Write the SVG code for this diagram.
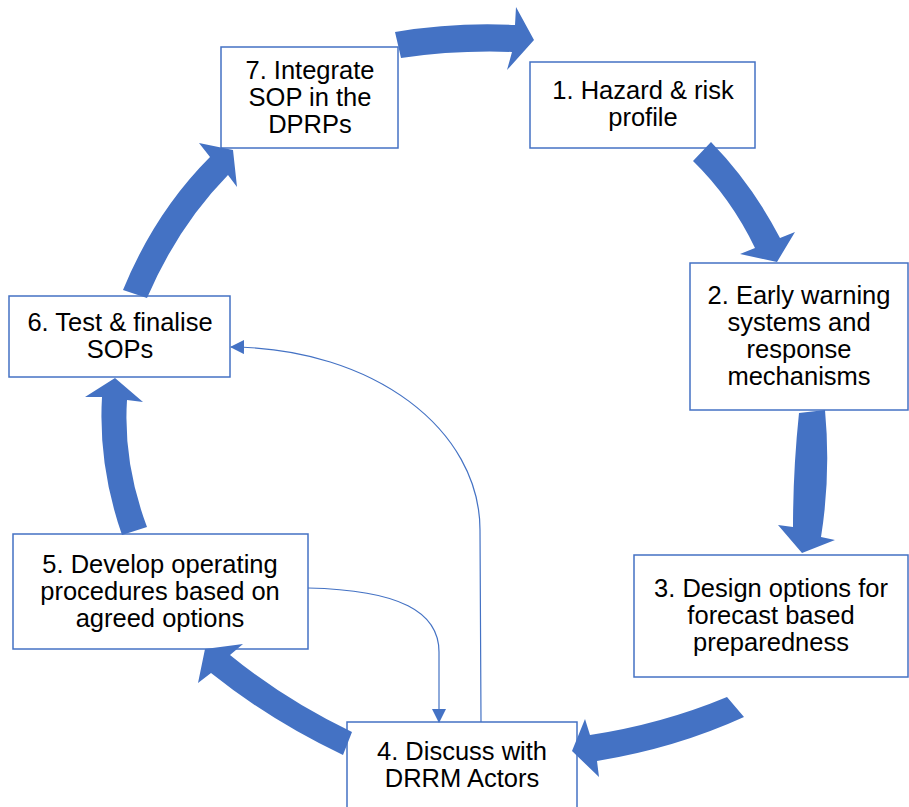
<svg xmlns="http://www.w3.org/2000/svg" width="909" height="807" viewBox="0 0 909 807">
<style>
.box{fill:#fff;stroke:#4472C4;stroke-width:1.5}
.lbl{font-family:"Liberation Sans",Arial,sans-serif;font-size:25.5px;fill:#000;text-anchor:middle}
.blk{fill:#4472C4;stroke:none}
.thin{fill:none;stroke:#4472C4;stroke-width:1.2}
</style>
<defs>
<marker id="ah" markerUnits="userSpaceOnUse" markerWidth="14" markerHeight="14" viewBox="0 0 14 14" refX="13" refY="7" orient="auto">
<path d="M0,0 L14,7 L0,14 Z" fill="#4472C4"/>
</marker>
</defs>
<rect width="909" height="807" fill="#fff"/>
<g id="node1">
<rect class="box" x="530" y="62" width="225" height="86"/>
<text class="lbl" x="643" y="99">1. Hazard &amp; risk</text>
<text class="lbl" x="643" y="126">profile</text>
</g>
<g id="node2">
<rect class="box" x="690" y="263" width="218" height="147"/>
<text class="lbl" x="799" y="304">2. Early warning</text>
<text class="lbl" x="799" y="331">systems and</text>
<text class="lbl" x="799" y="358">response</text>
<text class="lbl" x="799" y="385">mechanisms</text>
</g>
<g id="node3">
<rect class="box" x="634" y="555" width="274" height="122"/>
<text class="lbl" x="771" y="597">3. Design options for</text>
<text class="lbl" x="771" y="624">forecast based</text>
<text class="lbl" x="771" y="651">preparedness</text>
</g>
<g id="node4">
<rect class="box" x="347" y="722" width="230" height="100"/>
<text class="lbl" x="462" y="760">4. Discuss with</text>
<text class="lbl" x="462" y="787">DRRM Actors</text>
</g>
<g id="node5">
<rect class="box" x="13" y="534" width="295" height="115"/>
<text class="lbl" x="160" y="573">5. Develop operating</text>
<text class="lbl" x="160" y="600">procedures based on</text>
<text class="lbl" x="160" y="627">agreed options</text>
</g>
<g id="node6">
<rect class="box" x="9" y="296" width="221" height="81"/>
<text class="lbl" x="120" y="331">6. Test &amp; finalise</text>
<text class="lbl" x="120" y="358">SOPs</text>
</g>
<g id="node7">
<rect class="box" x="221" y="47" width="177" height="101"/>
<text class="lbl" x="310" y="79">7. Integrate</text>
<text class="lbl" x="310" y="106">SOP in the</text>
<text class="lbl" x="310" y="133">DPRPs</text>
</g>
<g id="connectors">
<path class="blk" d="M395,32 Q455,22 515,25 L516,7 L534,40 L507,70 L512,52 Q456,50 401,58 Z"/>
<path class="blk" d="M711,142 Q752,184 780,238 L795,232 L777,262 L740,254 L755,248 Q731,198 693,161 Z"/>
<path class="blk" d="M799,413 Q793,470 793,527 L778,525 L802,553 L835,540 L821,537 Q831,475 825,410 Z"/>
<path class="blk" d="M727,697 Q662,724 590,735 L585,719 L572,751 L599,777 L597,761 Q676,748 744,717 Z"/>
<path class="blk" d="M352,732 Q285,700 230,655 L243,644 L205,649 L198,683 L211,673 Q271,721 343,755 Z"/>
<path class="blk" d="M122,535 Q98,466 102,397 L85,397 L115,378 L143,402 L127,400 Q123,463 147,527 Z"/>
<path class="blk" d="M123,290 Q155,212 210,157 L199,143 L233,150 L237,187 L228,175 Q178,226 147,298 Z"/>
<path class="thin" d="M308,588 C400,590 439,612 439,652 L439,722" marker-end="url(#ah)"/>
<path class="thin" d="M481,722 L480,530 C480,430 374,348 231,347" marker-end="url(#ah)"/>
</g>
</svg>
